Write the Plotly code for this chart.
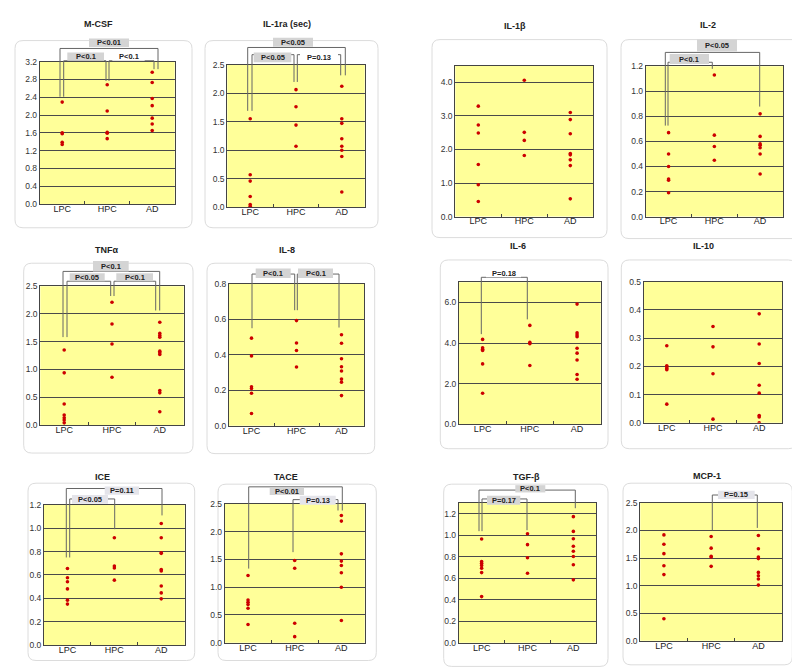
import plotly.graph_objects as go

W, H = 800, 671
CATS = ["LPC", "HPC", "AD"]

# ---- data ----
MCSF_LPC = [2.29, 1.60, 1.58, 1.39, 1.34]
MCSF_HPC = [2.68, 2.09, 1.61, 1.59, 1.47]
MCSF_AD = [2.96, 2.73, 2.37, 2.21, 1.93, 1.80, 1.65]

IL1RA_LPC = [1.55, 0.57, 0.46, 0.19, 0.05, 0.02]
IL1RA_HPC = [2.06, 1.76, 1.44, 1.07]
IL1RA_AD = [2.12, 1.55, 1.47, 1.20, 1.07, 1.00, 0.89, 0.27]

IL1B_LPC = [3.29, 2.73, 2.49, 1.55, 0.95, 0.45]
IL1B_HPC = [4.06, 2.51, 2.27, 1.82]
IL1B_AD = [3.10, 2.89, 2.47, 1.88, 1.84, 1.69, 1.52, 0.53]

IL2_LPC = [0.67, 0.50, 0.40, 0.30, 0.29, 0.19]
IL2_HPC = [1.13, 0.65, 0.56, 0.45]
IL2_AD = [0.82, 0.64, 0.58, 0.57, 0.55, 0.50, 0.34]

TNF_LPC = [1.35, 0.94, 0.38, 0.18, 0.13, 0.09, 0.04]
TNF_HPC = [2.21, 1.82, 1.46, 0.86]
TNF_AD = [1.85, 1.65, 1.61, 1.58, 1.33, 1.30, 1.27, 0.62, 0.58, 0.24]

IL8_LPC = [0.494, 0.394, 0.220, 0.210, 0.183, 0.069]
IL8_HPC = [0.593, 0.467, 0.424, 0.331]
IL8_AD = [0.513, 0.465, 0.378, 0.333, 0.309, 0.263, 0.246, 0.170]

IL6_LPC = [4.18, 3.77, 3.69, 3.63, 2.97, 1.52]
IL6_HPC = [4.87, 4.03, 3.97, 2.89]
IL6_AD = [5.92, 4.50, 4.39, 4.31, 3.74, 3.50, 3.16, 2.45, 2.21]

IL10_LPC = [0.273, 0.202, 0.198, 0.192, 0.188, 0.066]
IL10_HPC = [0.341, 0.269, 0.174, 0.013]
IL10_AD = [0.386, 0.279, 0.210, 0.133, 0.105, 0.026, 0.021, 0.0]

ICE_LPC = [0.655, 0.576, 0.542, 0.481, 0.385, 0.351]
ICE_HPC = [0.919, 0.677, 0.660, 0.556]
ICE_AD = [1.04, 0.919, 0.79, 0.785, 0.646, 0.635, 0.506, 0.447, 0.396]

TACE_LPC = [1.21, 0.77, 0.73, 0.69, 0.62, 0.33]
TACE_HPC = [1.48, 1.34, 0.35, 0.11]
TACE_AD = [2.29, 2.19, 1.60, 1.47, 1.39, 1.26, 1.00, 0.40]

TGFB_LPC = [0.964, 0.756, 0.738, 0.719, 0.692, 0.652, 0.429]
TGFB_HPC = [1.013, 0.912, 0.790, 0.646]
TGFB_AD = [1.172, 1.035, 0.967, 0.897, 0.851, 0.802, 0.725, 0.585]

MCP1_LPC = [1.92, 1.75, 1.58, 1.36, 1.20, 0.40]
MCP1_HPC = [1.89, 1.68, 1.53, 1.52, 1.35]
MCP1_AD = [1.91, 1.67, 1.52, 1.49, 1.24, 1.18, 1.12, 1.01]

TITLES = ["M-CSF", "IL-1ra (sec)", "IL-1β", "IL-2", "TNFα", "IL-8",
          "IL-6", "IL-10", "ICE", "TACE", "TGF-β", "MCP-1"]
YMAX = [3.2, 2.5, 4.5, 1.2, 2.5, 0.8, 7.0, 0.5, 1.2, 2.5, 1.3, 2.5]
DTICK = [0.4, 0.5, 1.0, 0.2, 0.5, 0.2, 2.0, 0.1, 0.2, 0.5, 0.2, 0.5]
SERIES = [
    (MCSF_LPC, MCSF_HPC, MCSF_AD), (IL1RA_LPC, IL1RA_HPC, IL1RA_AD),
    (IL1B_LPC, IL1B_HPC, IL1B_AD), (IL2_LPC, IL2_HPC, IL2_AD),
    (TNF_LPC, TNF_HPC, TNF_AD), (IL8_LPC, IL8_HPC, IL8_AD),
    (IL6_LPC, IL6_HPC, IL6_AD), (IL10_LPC, IL10_HPC, IL10_AD),
    (ICE_LPC, ICE_HPC, ICE_AD), (TACE_LPC, TACE_HPC, TACE_AD),
    (TGFB_LPC, TGFB_HPC, TGFB_AD), (MCP1_LPC, MCP1_HPC, MCP1_AD),
]
# p-value labels per panel
PTEXT = [
    ["P<0.01", "P<0.1", "P<0.1"], ["P<0.05", "P<0.05", "P=0.13"], [], ["P<0.05", "P<0.1"],
    ["P<0.1", "P<0.05", "P<0.1"], ["P<0.1", "P<0.1"], ["P=0.18"], [],
    ["P=0.11", "P<0.05"], ["P<0.01", "P=0.13"], ["P<0.1", "P=0.17"], ["P=0.15"],
]

# ---- layout geometry (pixels) ----
PLOT = [(31.7, 49.3, 166.7, 194), (219.3, 52.3, 356.7, 197.3), (447.3, 53.3, 585.3, 206.7),
        (637.7, 54, 775, 206.7), (32.3, 277.3, 175.7, 418.3), (221, 275, 356, 419),
        (451, 273.3, 592.7, 417.3), (635.7, 272.7, 774.3, 416), (36, 499.3, 176.7, 641.7),
        (216.7, 498.3, 356.7, 639.3), (450.7, 497.3, 588.3, 639.3), (632.3, 497.3, 774, 637.3)]
CARD = [(7, 28, 184, 218), (197, 28, 370, 218), (424, 27, 599, 228), (613, 27, 792, 229),
        (15.7, 254, 185, 446.7), (199, 254, 366.7, 447.3), (432.3, 250.7, 600, 442.3),
        (613.3, 250.7, 788.3, 442.3), (20, 477.3, 186.7, 657.3), (210, 478.3, 368.3, 657.3),
        (435.7, 478.3, 600, 663.3), (615, 477.3, 784.3, 661.7)]
TPOS = [(90, 11), (279, 11), (507, 13), (700, 12), (98, 240.7), (279.3, 240.7),
        (510, 236.7), (695, 236.7), (94, 470.7), (278.3, 470.7), (518.3, 470.7), (699, 470)]
NARROW = [True, False, False, False, True, False, True, False, True, True, True, False]

GRAY, LIGHT, WHITE = "#d4d4d4", "#e4e4ea", "#ffffff"
# bracket geometry: (left x, left leg bottom, right x, right leg bottom, top y, box, fill)
BRACKETS = [
    [(52, 85, 150, 57, 36, (81, 26, 121, 34.5), GRAY),
     (55.7, 85, 98, 69, 48.5, (59.3, 40, 96, 48.5), GRAY),
     (101, 69, 146, 57, 48.5, (104.3, 40, 136.7, 48.5), WHITE)],
    [(239.7, 99.3, 337.3, 63.3, 35, (265, 25, 305, 34.3), GRAY),
     (244, 99.3, 286, 70, 42.3, (245.7, 40, 283.3, 50), GRAY),
     (289.3, 70, 332.7, 63.3, 42.3, (292, 40, 330, 50), WHITE)],
    [],
    [(657.3, 114.3, 751.7, 95, 40, (689, 27, 729, 39), GRAY),
     (660, 114.3, 704.3, 56.7, 50, (661.7, 41.7, 701, 51.7), GRAY)],
    [(55, 329, 151.7, 302, 262.3, (85, 251.7, 120.7, 262.3), GRAY),
     (59, 329, 102.7, 287.3, 272.3, (61.7, 264.3, 96.7, 272.3), GRAY),
     (106, 287.3, 147.7, 302, 272.3, (108.3, 264.3, 145, 272.3), GRAY)],
    [(244, 320, 286.7, 301.7, 265, (247.7, 259.3, 282.7, 269), GRAY),
     (289.3, 301.7, 331, 319.3, 265, (290, 259.3, 325, 269), GRAY)],
    [(473.3, 326, 519.3, 311, 268.3, (478, 260.7, 513, 268.3), WHITE)],
    [],
    [(58.3, 552.7, 154, 510, 482.7, (96.7, 480.7, 131, 489), LIGHT),
     (61.7, 552.7, 106.7, 524, 493.3, (64, 489.3, 100, 498.3), LIGHT)],
    [(240.7, 564, 334.3, 505, 481, (261.7, 481.7, 296, 489.3), GRAY),
     (285, 547.3, 330, 505, 494, (291.7, 490, 327.7, 499.3), LIGHT)],
    [(471, 526, 567.3, 502.7, 484.3, (507.3, 479.3, 537.3, 486.7), GRAY),
     (474, 526, 519, 525, 493.3, (479, 490, 512.3, 499.3), GRAY)],
    [(704.3, 525, 749.3, 522.7, 489.3, (710, 485, 746.7, 493.3), LIGHT)],
]

FONT = "Liberation Sans, Arial, sans-serif"
NARROW_FONT = "Liberation Sans Narrow, Arial Narrow, Liberation Sans, Arial, sans-serif"


def X(px):
    return px / W


def Y(py):
    return 1 - py / H


def rounded(x0, y0, x1, y1, r):
    return (f"M{X(x0 + r)},{Y(y0)} L{X(x1 - r)},{Y(y0)} Q{X(x1)},{Y(y0)} {X(x1)},{Y(y0 + r)} "
            f"L{X(x1)},{Y(y1 - r)} Q{X(x1)},{Y(y1)} {X(x1 - r)},{Y(y1)} "
            f"L{X(x0 + r)},{Y(y1)} Q{X(x0)},{Y(y1)} {X(x0)},{Y(y1 - r)} "
            f"L{X(x0)},{Y(y0 + r)} Q{X(x0)},{Y(y0)} {X(x0 + r)},{Y(y0)} Z")


fig = go.Figure()
shapes, annotations = [], []
layout = {}

for i in range(12):
    n = i + 1
    xa = "x" if n == 1 else f"x{n}"
    ya = "y" if n == 1 else f"y{n}"
    px0, py0, px1, py1 = PLOT[i]
    fam = NARROW_FONT if NARROW[i] else FONT

    xs, ys = [], []
    for cat, vals in zip(CATS, SERIES[i]):
        xs += [cat] * len(vals)
        ys += list(vals)
    fig.add_trace(go.Scatter(x=xs, y=ys, mode="markers", xaxis=xa, yaxis=ya,
                             marker=dict(color="#cc0000", size=3.6, symbol="circle"),
                             hoverinfo="x+y", showlegend=False))

    layout["xaxis" if n == 1 else f"xaxis{n}"] = dict(
        domain=[X(px0), X(px1)], anchor=ya, type="category",
        categoryorder="array", categoryarray=CATS, range=[-0.5, 2.5],
        tickson="boundaries", ticks="inside", ticklen=3, tickcolor="#444",
        showgrid=False, zeroline=False, showline=True, mirror=True,
        linecolor="#444", linewidth=1, ticklabelstandoff=-4,
        tickfont=dict(family=fam, size=9, color="#222"), fixedrange=True)
    layout["yaxis" if n == 1 else f"yaxis{n}"] = dict(
        domain=[Y(py1), Y(py0)], anchor=xa, range=[0, YMAX[i]],
        tick0=0, dtick=DTICK[i], tickformat=".1f", ticks="",
        showgrid=True, gridcolor="#4a4a4a", gridwidth=1, zeroline=False,
        showline=True, mirror=True, linecolor="#444", linewidth=1,
        tickfont=dict(family=fam, size=8.5, color="#333"), fixedrange=True)

    # card + yellow plotting area
    cx0, cy0, cx1, cy1 = CARD[i]
    shapes.append(dict(type="path", xref="paper", yref="paper", path=rounded(cx0, cy0, cx1, cy1, 8),
                       fillcolor="white", line=dict(color="#dcdcdc", width=1), layer="below"))
    shapes.append(dict(type="rect", xref="paper", yref="paper", x0=X(px0), x1=X(px1), y0=Y(py1), y1=Y(py0),
                       fillcolor="#ffff99", line=dict(width=0), layer="below"))

    tx, ty = TPOS[i]
    annotations.append(dict(x=X(tx), y=Y(ty), xref="paper", yref="paper", text=f"<b>{TITLES[i]}</b>",
                            showarrow=False, xanchor="center", yanchor="middle",
                            font=dict(family=FONT, size=9, color="#222")))

    for txt, (lx, lb, rx, rb, top, box, fill) in zip(PTEXT[i], BRACKETS[i]):
        shapes.append(dict(type="path", xref="paper", yref="paper",
                           path=f"M{X(lx)},{Y(lb)} L{X(lx)},{Y(top)} L{X(rx)},{Y(top)} L{X(rx)},{Y(rb)}",
                           line=dict(color="#666", width=1)))
        bx0, by0, bx1, by1 = box
        shapes.append(dict(type="rect", xref="paper", yref="paper", x0=X(bx0), x1=X(bx1),
                           y0=Y(by1), y1=Y(by0), fillcolor=fill, line=dict(width=0)))
        annotations.append(dict(x=X((bx0 + bx1) / 2), y=Y((by0 + by1) / 2), xref="paper", yref="paper",
                                text=f"<b>{txt}</b>", showarrow=False, xanchor="center", yanchor="middle",
                                font=dict(family=FONT, size=7.5, color="#222")))

fig.update_layout(**layout)
fig.update_layout(width=W, height=H, margin=dict(l=0, r=0, t=0, b=0),
                  paper_bgcolor="white", plot_bgcolor="rgba(0,0,0,0)",
                  showlegend=False, shapes=shapes, annotations=annotations,
                  font=dict(family=FONT))
fig.write_html("out.html")
